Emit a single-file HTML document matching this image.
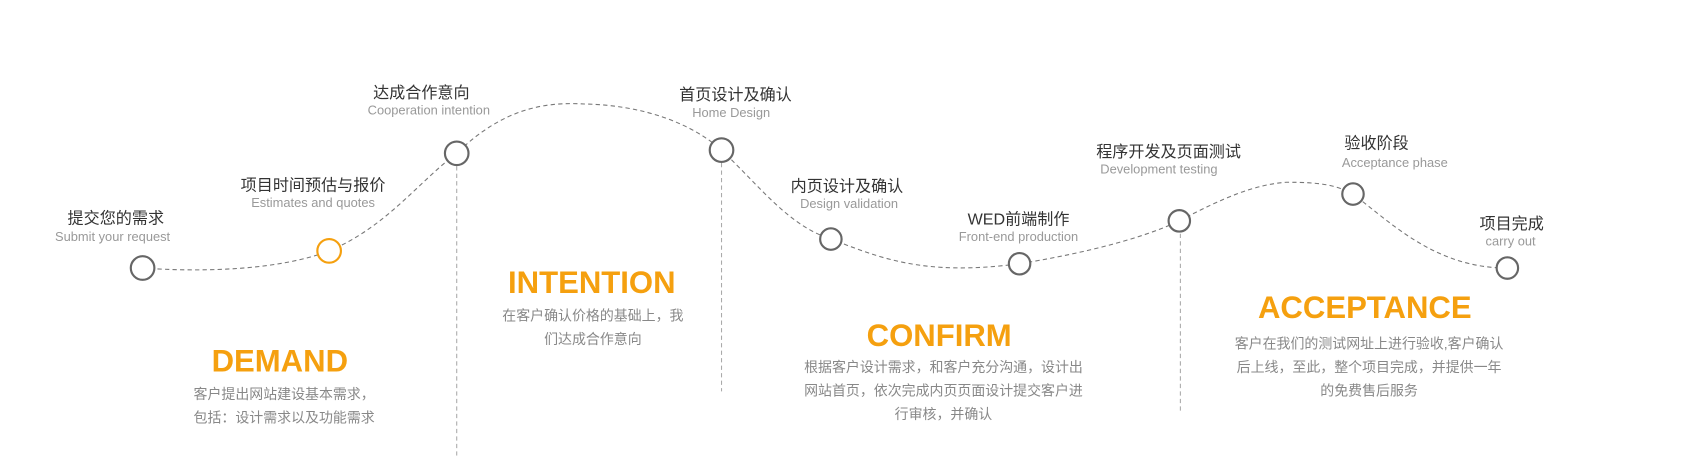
<!DOCTYPE html>
<html><head><meta charset="utf-8"><style>
body{margin:0;width:1681px;height:456px;background:#fff;position:relative;overflow:hidden;font-family:"Liberation Sans","Noto Sans CJK SC",sans-serif}
#w{position:absolute;left:0;top:0;width:1568px;height:425px;transform:scale(1.0721);transform-origin:0 0}
.t{position:absolute;transform:translate(-50%,-50%);white-space:nowrap;text-align:center}
.cn{font-size:15px;color:#333}
.en{font-size:12px;color:#999}
.h{font-size:29px;font-weight:bold;color:#f5a00f}
.d{font-size:13px;color:#888;line-height:22px}
</style></head><body><div id="w">
<svg width="1568" height="425" style="position:absolute;left:0;top:0">
<g fill="none" stroke="#777" stroke-width="1" stroke-dasharray="4,3">
<path d="M133,250 C190,254 260,252 307,234 C360,212 390,170 426,143 C470,100 510,95 545,97 C600,98 645,115 673,140 C710,175 735,210 775,223 C820,240 860,258 951,246 C1000,238 1060,225 1100,206 C1140,185 1170,172 1200,170 C1230,170 1245,172 1262,181 C1300,210 1340,250 1406,250"/>
<path d="M426,155 V425 M673,152 V365 M1101,218 V385" stroke="#aaa"/>
</g>
<g fill="#fff" stroke="#666" stroke-width="2">
<circle cx="133" cy="250" r="11"/>
<circle cx="307" cy="234" r="11" stroke="#f5a00f"/>
<circle cx="426" cy="143" r="11"/>
<circle cx="673" cy="140" r="11"/>
<circle cx="775" cy="223" r="10"/>
<circle cx="951" cy="246" r="10"/>
<circle cx="1100" cy="206" r="10"/>
<circle cx="1262" cy="181" r="10"/>
<circle cx="1406" cy="250" r="10"/>
</g>
</svg>
<div class="t cn" style="left:108px;top:203px">提交您的需求</div>
<div class="t en" style="left:105px;top:221px">Submit your request</div>
<div class="t cn" style="left:292px;top:172px">项目时间预估与报价</div>
<div class="t en" style="left:292px;top:189px">Estimates and quotes</div>
<div class="t cn" style="left:393px;top:86px">达成合作意向</div>
<div class="t en" style="left:400px;top:103px">Cooperation intention</div>
<div class="t cn" style="left:686px;top:88px">首页设计及确认</div>
<div class="t en" style="left:682px;top:105px">Home Design</div>
<div class="t cn" style="left:790px;top:173px">内页设计及确认</div>
<div class="t en" style="left:792px;top:190px">Design validation</div>
<div class="t cn" style="left:950px;top:204px">WED前端制作</div>
<div class="t en" style="left:950px;top:221px">Front-end production</div>
<div class="t cn" style="left:1090px;top:141px">程序开发及页面测试</div>
<div class="t en" style="left:1081px;top:158px">Development testing</div>
<div class="t cn" style="left:1284px;top:133px">验收阶段</div>
<div class="t en" style="left:1301px;top:152px">Acceptance phase</div>
<div class="t cn" style="left:1410px;top:208px">项目完成</div>
<div class="t en" style="left:1409px;top:225px">carry out</div>

<div class="t h" style="left:261px;top:338px">DEMAND</div>
<div class="t d" style="left:265px;top:379px">客户提出网站建设基本需求，<br>包括：设计需求以及功能需求</div>
<div class="t h" style="left:552px;top:265px">INTENTION</div>
<div class="t d" style="left:553px;top:306px">在客户确认价格的基础上，我<br>们达成合作意向</div>
<div class="t h" style="left:876px;top:314px">CONFIRM</div>
<div class="t d" style="left:880px;top:365px">根据客户设计需求，和客户充分沟通，设计出<br>网站首页，依次完成内页页面设计提交客户进<br>行审核，并确认</div>
<div class="t h" style="left:1273px;top:288px">ACCEPTANCE</div>
<div class="t d" style="left:1277px;top:343px">客户在我们的测试网址上进行验收,客户确认<br>后上线，至此，整个项目完成，并提供一年<br>的免费售后服务</div>
</div></body></html>
